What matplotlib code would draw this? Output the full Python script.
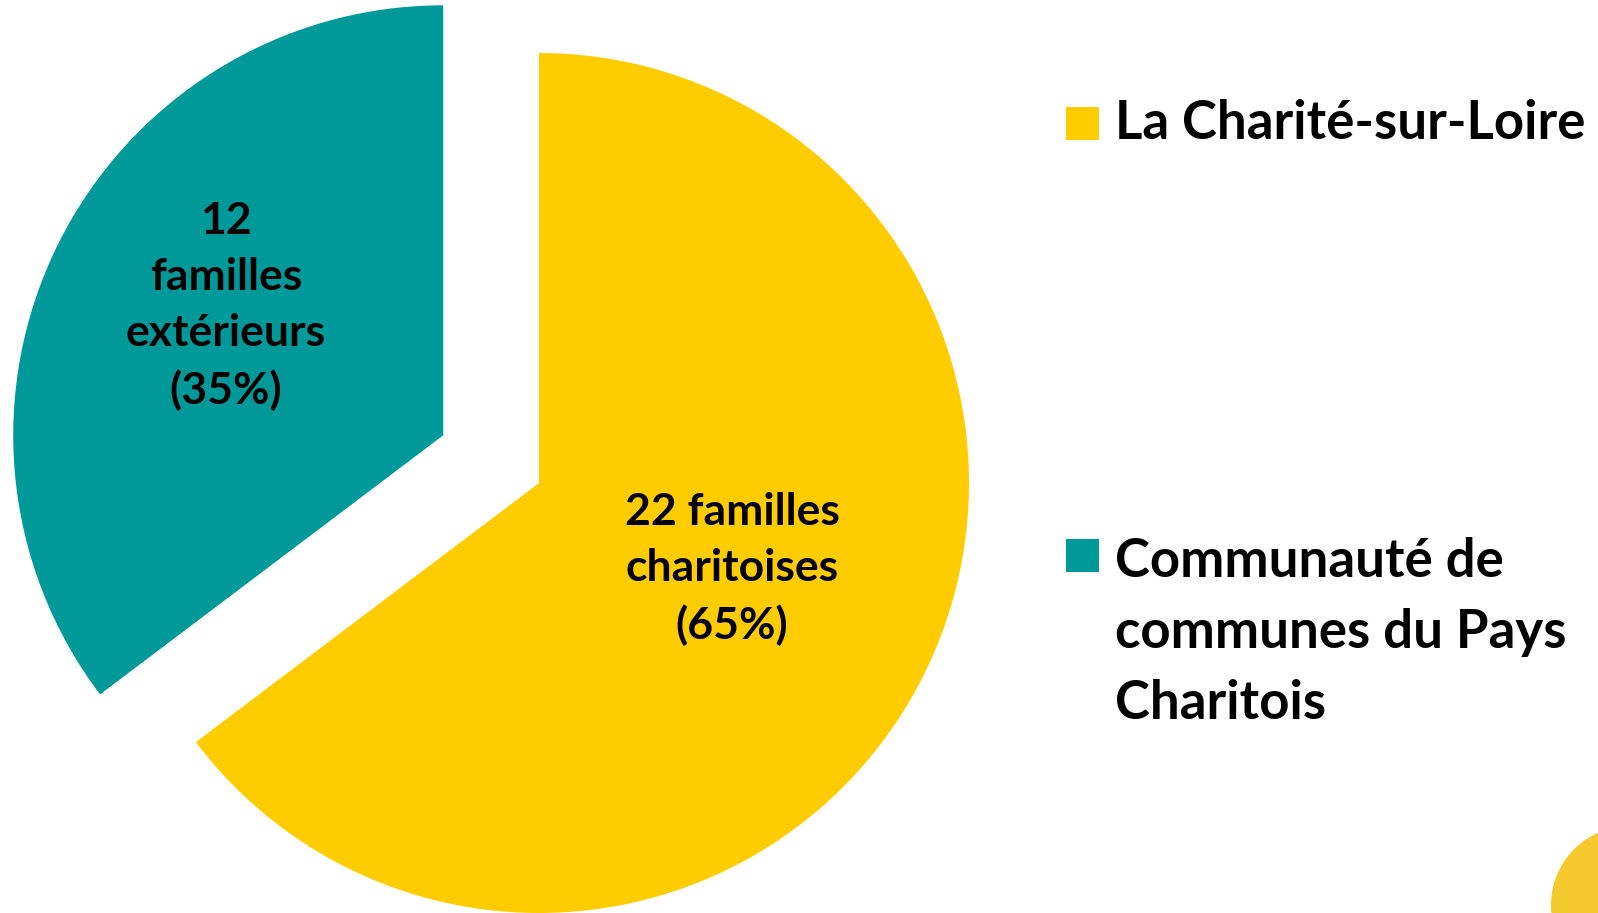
import matplotlib
matplotlib.use("Agg")
import matplotlib.pyplot as plt
from matplotlib.patches import Rectangle, Circle

plt.rcParams['font.family'] = ['Lato', 'DejaVu Sans']

categories = ["La Charité-sur-Loire", "Communauté de\ncommunes du Pays\nCharitois"]
values = [22, 12]
slice_labels = ["22 familles\ncharitoises\n(65%)", "12\nfamilles\nextérieurs\n(35%)"]
colors = ["#FFCC00", "#009999"]

W, H = 1598, 913
fig = plt.figure(figsize=(W / 100, H / 100), dpi=100)
ax = fig.add_axes([0, 0, 1, 1])

# pie drawn in pixel units (explode is absolute, not relative to radius)
cx, cy, r = 539, 430, 430
wedges, _ = ax.pie(values, colors=colors, startangle=90, counterclock=False,
                   explode=[0, 107], center=(cx, cy), radius=r,
                   wedgeprops=dict(linewidth=0))
ax.set_xlim(0, W)
ax.set_ylim(0, H)
ax.set_aspect('auto')
ax.axis('off')

# labels inside slices
ax.text(732, 344, slice_labels[0], ha='center', va='center', fontsize=32,
        fontweight='bold', linespacing=1.49, color='black')
ax.text(226, 607, slice_labels[1], ha='center', va='center', fontsize=32,
        fontweight='bold', linespacing=1.49, color='black')

# legend drawn by hand
ax.add_patch(Rectangle((1066, H - 140), 33, 33, color=colors[0], lw=0))
ax.text(1115, H - 123, categories[0], ha='left', va='center', fontsize=38,
        fontweight='bold', color='black')
ax.add_patch(Rectangle((1066, H - 572), 33, 33, color=colors[1], lw=0))
ax.text(1115, H - 537, categories[1], ha='left', va='top', fontsize=38,
        fontweight='bold', linespacing=1.55, color='black')

# decorative circle bottom right
ax.add_patch(Circle((1630, 8), 79, color="#F4CA2C", lw=0, clip_on=False))

fig.savefig("out.png", dpi=100)
